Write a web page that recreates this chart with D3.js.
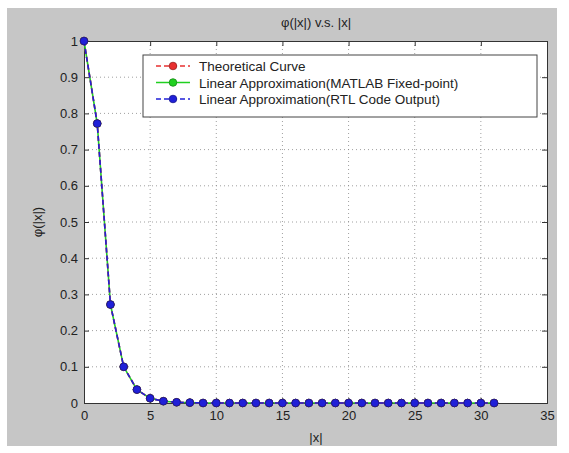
<!DOCTYPE html>
<html>
<head>
<meta charset="utf-8">
<script src="https://cdn.jsdelivr.net/npm/d3@7"></script>
<style>
  body { margin: 0; background: #fff; }
  text { font-family: "Liberation Sans", Arial, sans-serif; }
</style>
</head>
<body>
<script>
var svgWidth = 569;
var svgHeight = 453;

var margin = { top: 41, right: 22, bottom: 50, left: 84 };
var width = 547 - margin.left;
var height = 403 - margin.top;

// |x| sample points and the phi values
var xs = d3.range(0, 32);
var theoretical = [1, 0.772, 0.272, 0.100, 0.037, 0.013, 0.005, 0.002, 0.001, 0, 0, 0, 0, 0, 0, 0,
  0, 0, 0, 0, 0, 0, 0, 0, 0, 0, 0, 0, 0, 0, 0, 0];
var matlabFixed = [1, 0.772, 0.272, 0.100, 0.037, 0.013, 0.005, 0.002, 0.001, 0, 0, 0, 0, 0, 0, 0,
  0, 0, 0, 0, 0, 0, 0, 0, 0, 0, 0, 0, 0, 0, 0, 0];
var rtlOutput = [1, 0.772, 0.272, 0.100, 0.037, 0.013, 0.005, 0.002, 0.001, 0, 0, 0, 0, 0, 0, 0,
  0, 0, 0, 0, 0, 0, 0, 0, 0, 0, 0, 0, 0, 0, 0, 0];
var xTicks = [0, 5, 10, 15, 20, 25, 30, 35];
var yTicks = [0, 0.1, 0.2, 0.3, 0.4, 0.5, 0.6, 0.7, 0.8, 0.9, 1];
var legendLabels = ["Theoretical Curve", "Linear Approximation(MATLAB Fixed-point)", "Linear Approximation(RTL Code Output)"];

var series = [
  { name: legendLabels[0], values: theoretical, color: "#e83030", dash: "5,3" },
  { name: legendLabels[1], values: matlabFixed, color: "#20d020", dash: null },
  { name: legendLabels[2], values: rtlOutput, color: "#2020d8", dash: "5,3" }
];

var svg = d3.select("body")
  .append("svg")
  .attr("width", svgWidth)
  .attr("height", svgHeight);

// gray figure background
svg.append("rect")
  .attr("x", 7).attr("y", 8)
  .attr("width", 550).attr("height", 438)
  .attr("fill", "#c6c6c6");

var chartGroup = svg.append("g")
  .attr("transform", `translate(${margin.left}, ${margin.top})`);

var xScale = d3.scaleLinear().domain([0, 35]).range([0, width]);
var yScale = d3.scaleLinear().domain([0, 1]).range([height, 0]);

chartGroup.append("rect")
  .attr("width", width).attr("height", height)
  .attr("fill", "#fff");

// dotted grid
chartGroup.append("g")
  .selectAll("line")
  .data(xTicks.slice(1, -1))
  .join("line")
  .attr("x1", d => xScale(d)).attr("x2", d => xScale(d))
  .attr("y1", 0).attr("y2", height)
  .attr("stroke", "#888").attr("stroke-width", 0.8)
  .attr("stroke-dasharray", "1,3");

chartGroup.append("g")
  .selectAll("line")
  .data(yTicks.slice(1, -1))
  .join("line")
  .attr("x1", 0).attr("x2", width)
  .attr("y1", d => yScale(d)).attr("y2", d => yScale(d))
  .attr("stroke", "#888").attr("stroke-width", 0.8)
  .attr("stroke-dasharray", "1,3");

// axes
var bottomAxis = d3.axisBottom(xScale).tickValues(xTicks).tickSize(-5).tickPadding(8).tickFormat(d3.format("d"));
var leftAxis = d3.axisLeft(yScale).tickValues(yTicks).tickSize(-5).tickPadding(6).tickFormat(d => d === 0 || d === 1 ? d : d3.format(".1f")(d));
var topAxis = d3.axisTop(xScale).tickValues(xTicks).tickSize(-5).tickFormat("");
var rightAxis = d3.axisRight(yScale).tickValues(yTicks).tickSize(-5).tickFormat("");

[
  chartGroup.append("g").attr("transform", `translate(0, ${height})`).call(bottomAxis),
  chartGroup.append("g").call(leftAxis),
  chartGroup.append("g").call(topAxis),
  chartGroup.append("g").attr("transform", `translate(${width}, 0)`).call(rightAxis)
].forEach(function(g) {
  g.select(".domain").attr("stroke", "#333").attr("stroke-width", 1);
  g.selectAll(".tick line").attr("stroke", "#333");
  g.selectAll(".tick text").attr("fill", "#222").style("font-size", "13px");
});

// lines and markers: green below, red, blue on top
var drawLine = d3.line()
  .x((d, i) => xScale(xs[i]))
  .y(d => yScale(d));

[series[1], series[0], series[2]].forEach(function(s) {
  chartGroup.append("path")
    .attr("d", drawLine(s.values))
    .attr("fill", "none")
    .attr("stroke", s.color)
    .attr("stroke-width", 1.6)
    .attr("stroke-dasharray", s.dash);
  chartGroup.append("g")
    .selectAll("circle")
    .data(s.values)
    .join("circle")
    .attr("cx", (d, i) => xScale(xs[i]))
    .attr("cy", d => yScale(d))
    .attr("r", 3.8)
    .attr("fill", s.color)
    .attr("stroke", d3.color(s.color).darker(1.2))
    .attr("stroke-width", 0.8);
});

// legend
var legend = chartGroup.append("g").attr("transform", `translate(${143 - margin.left}, ${55 - margin.top})`);
legend.append("rect")
  .attr("width", 394).attr("height", 62)
  .attr("fill", "#fff").attr("stroke", "#444").attr("stroke-width", 1);
series.forEach(function(s, i) {
  var y = 11 + i * 16.5;
  legend.append("line")
    .attr("x1", 13).attr("x2", 47).attr("y1", y).attr("y2", y)
    .attr("stroke", s.color).attr("stroke-width", 1.6)
    .attr("stroke-dasharray", s.dash);
  legend.append("circle")
    .attr("cx", 30).attr("cy", y).attr("r", 3.8)
    .attr("fill", s.color).attr("stroke", d3.color(s.color).darker(1.2)).attr("stroke-width", 0.8);
  legend.append("text")
    .attr("x", 56).attr("y", y + 5)
    .attr("fill", "#222")
    .style("font-size", "13.5px")
    .text(s.name);
});

// title and axis labels
svg.append("text")
  .attr("x", 316).attr("y", 27)
  .attr("text-anchor", "middle")
  .attr("fill", "#222").style("font-size", "13px")
  .text("φ(|x|) v.s. |x|");

svg.append("text")
  .attr("x", 316).attr("y", 442)
  .attr("text-anchor", "middle")
  .attr("fill", "#222").style("font-size", "13px")
  .text("|x|");

svg.append("text")
  .attr("transform", "translate(42, 222) rotate(-90)")
  .attr("text-anchor", "middle")
  .attr("fill", "#222").style("font-size", "13px")
  .text("φ(|x|)");
</script>
</body>
</html>
